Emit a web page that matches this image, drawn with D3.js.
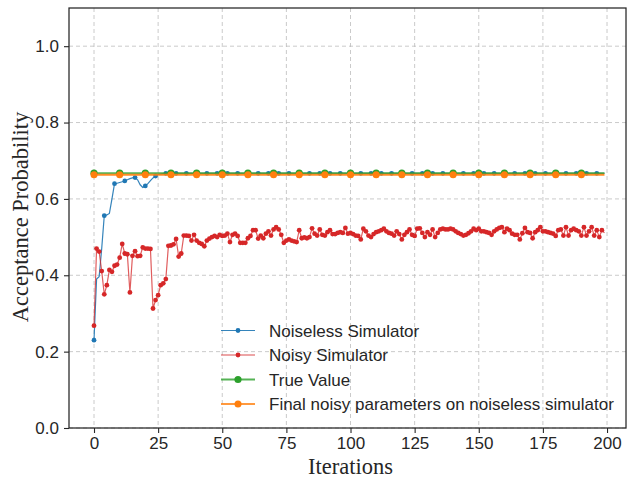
<!DOCTYPE html>
<html>
<head>
<meta charset="utf-8">
<script src="https://cdn.jsdelivr.net/npm/d3@7"></script>
<style>
  body { margin: 0; background: #fff; }
  svg { display: block; }
</style>
</head>
<body>
<div id="chart"></div>
<script>
// ---- data ----
var xTicks = [0, 25, 50, 75, 100, 125, 150, 175, 200];
var yTicks = [0.0, 0.2, 0.4, 0.6, 0.8, 1.0];

// noiseless simulator: one value per iteration while it climbs, then every 4th
var blueIters = [0, 1, 2, 3, 4, 5, 6, 7, 8, 9, 10, 11, 12, 13, 14, 15, 16, 17, 18, 19, 20, 21, 22, 23, 24, 25, 26, 27,
  28, 32, 36, 40, 44, 48, 52, 56, 60, 64, 68, 72, 76, 80, 84, 88, 92, 96, 100, 104, 108, 112, 116, 120,
  124, 128, 132, 136, 140, 144, 148, 152, 156, 160, 164, 168, 172, 176, 180, 184, 188, 192, 196, 199];
var blueValues = [0.230, 0.390, 0.396, 0.470, 0.556, 0.558, 0.562, 0.600, 0.640, 0.641, 0.643, 0.645, 0.647, 0.650,
  0.653, 0.655, 0.656, 0.650, 0.637, 0.630, 0.634, 0.640, 0.648, 0.655, 0.660, 0.664, 0.665, 0.666,
  0.667, 0.667, 0.667, 0.667, 0.667, 0.667, 0.667, 0.667, 0.667, 0.667, 0.667, 0.667, 0.667, 0.667,
  0.667, 0.667, 0.667, 0.667, 0.667, 0.667, 0.667, 0.667, 0.667, 0.667, 0.667, 0.667, 0.667, 0.667,
  0.667, 0.667, 0.667, 0.667, 0.667, 0.667, 0.667, 0.667, 0.667, 0.667, 0.667, 0.667, 0.667, 0.667,
  0.667, 0.667];

// noisy simulator, iterations 0..199
var redValues = [
  0.268, 0.470, 0.462, 0.411, 0.350, 0.374, 0.414, 0.409, 0.425, 0.428,
  0.446, 0.482, 0.457, 0.455, 0.355, 0.451, 0.463, 0.450, 0.451, 0.473,
  0.470, 0.470, 0.469, 0.313, 0.335, 0.348, 0.374, 0.379, 0.390, 0.477,
  0.478, 0.481, 0.495, 0.449, 0.457, 0.504, 0.504, 0.503, 0.491, 0.506,
  0.491, 0.485, 0.482, 0.476, 0.491, 0.496, 0.500, 0.503, 0.500, 0.506,
  0.503, 0.504, 0.509, 0.487, 0.506, 0.509, 0.503, 0.485, 0.485, 0.485,
  0.497, 0.503, 0.518, 0.518, 0.496, 0.504, 0.497, 0.509, 0.515, 0.504,
  0.520, 0.526, 0.520, 0.506, 0.485, 0.491, 0.494, 0.491, 0.489, 0.487,
  0.518, 0.497, 0.499, 0.497, 0.500, 0.523, 0.509, 0.504, 0.520, 0.506,
  0.504, 0.513, 0.518, 0.508, 0.508, 0.511, 0.513, 0.511, 0.524, 0.509,
  0.511, 0.508, 0.504, 0.503, 0.494, 0.522, 0.515, 0.504, 0.500, 0.508,
  0.513, 0.515, 0.518, 0.522, 0.515, 0.511, 0.509, 0.504, 0.515, 0.508,
  0.494, 0.506, 0.513, 0.520, 0.506, 0.503, 0.522, 0.523, 0.511, 0.500,
  0.513, 0.506, 0.520, 0.500, 0.511, 0.520, 0.522, 0.520, 0.520, 0.522,
  0.520, 0.515, 0.511, 0.508, 0.504, 0.506, 0.510, 0.515, 0.522, 0.518,
  0.522, 0.515, 0.515, 0.513, 0.511, 0.506, 0.515, 0.520, 0.524, 0.526,
  0.513, 0.522, 0.518, 0.509, 0.506, 0.506, 0.494, 0.510, 0.524, 0.513,
  0.511, 0.497, 0.513, 0.518, 0.526, 0.515, 0.515, 0.513, 0.511, 0.509,
  0.503, 0.518, 0.520, 0.504, 0.526, 0.504, 0.518, 0.522, 0.518, 0.515,
  0.504, 0.526, 0.504, 0.515, 0.526, 0.504, 0.518, 0.500, 0.518, 0.511
];

var trueValue = 0.6675;       // green line
var finalNoisyValue = 0.6635; // orange line
var lastIter = 199;

var legendLabels = ["Noiseless Simulator", "Noisy Simulator", "True Value",
  "Final noisy parameters on noiseless simulator"];
var colors = ["#1f77b4", "#d62728", "#2ca02c", "#ff7f0e"];

// ---- layout ----
var svgWidth = 627;
var svgHeight = 481;
var plot = { left: 69, right: 626, top: 8, bottom: 428 };

var svg = d3.select("#chart").append("svg")
  .attr("width", svgWidth).attr("height", svgHeight)
  .style("background", "#fff");

var xScale = d3.scaleLinear().domain([-9.75, 207.4]).range([plot.left, plot.right]);
var yScale = d3.scaleLinear().domain([0, 1.1]).range([plot.bottom, plot.top]);

var tickFont = "'Liberation Sans', Arial, sans-serif";
var labelFont = "'Liberation Serif', 'Times New Roman', serif";
var ink = "#262626";

// grid
var grid = svg.append("g");
grid.selectAll(".gx").data(xTicks).enter().append("line")
  .attr("x1", d => xScale(d)).attr("x2", d => xScale(d))
  .attr("y1", plot.top).attr("y2", plot.bottom)
  .attr("stroke", "#bdbdbd").attr("stroke-width", 0.8).attr("stroke-dasharray", "4,3");
grid.selectAll(".gy").data(yTicks).enter().append("line")
  .attr("x1", plot.left).attr("x2", plot.right)
  .attr("y1", d => yScale(d)).attr("y2", d => yScale(d))
  .attr("stroke", "#bdbdbd").attr("stroke-width", 0.8).attr("stroke-dasharray", "4,3");

// axes
var xAxis = d3.axisBottom(xScale).tickValues(xTicks).tickSize(5).tickPadding(4).tickFormat(d3.format("d"));
var yAxis = d3.axisLeft(yScale).tickValues(yTicks).tickSize(5).tickPadding(5).tickFormat(d3.format(".1f"));

var gx = svg.append("g").attr("transform", `translate(0, ${plot.bottom})`).call(xAxis);
var gy = svg.append("g").attr("transform", `translate(${plot.left}, 0)`).call(yAxis);
[gx, gy].forEach(function(g) {
  g.select(".domain").remove();
  g.selectAll(".tick line").attr("stroke", ink).attr("stroke-width", 1.1);
  g.selectAll(".tick text").attr("fill", ink).style("font-family", tickFont).style("font-size", "17px");
});

// frame
svg.append("rect")
  .attr("x", plot.left).attr("y", plot.top)
  .attr("width", plot.right - plot.left).attr("height", plot.bottom - plot.top)
  .attr("fill", "none").attr("stroke", ink).attr("stroke-width", 1.25);

// axis titles
svg.append("text")
  .attr("x", (xScale(0) + xScale(200)) / 2).attr("y", 474)
  .attr("text-anchor", "middle")
  .style("font-family", labelFont).style("font-size", "22.5px").attr("fill", ink)
  .text("Iterations");
svg.append("text")
  .attr("transform", "translate(28, 217) rotate(-90)")
  .attr("text-anchor", "middle")
  .style("font-family", labelFont).style("font-size", "22.5px").attr("fill", ink)
  .text("Acceptance Probability");

// ---- series ----
var blueData = blueIters.map((it, i) => ({ x: it, y: blueValues[i] }));
var redData = redValues.map((v, i) => ({ x: i, y: v }));
var greenData = d3.range(0, lastIter + 1).map(i => ({ x: i, y: trueValue }));
var orangeData = d3.range(0, lastIter + 1).map(i => ({ x: i, y: finalNoisyValue }));

var line = d3.line().x(d => xScale(d.x)).y(d => yScale(d.y));
var chartGroup = svg.append("g");

function drawSeries(data, color, lineWidth, lineOpacity, radius, markEvery) {
  chartGroup.append("path").datum(data)
    .attr("d", line).attr("fill", "none")
    .attr("stroke", color).attr("stroke-width", lineWidth).attr("stroke-opacity", lineOpacity);
  chartGroup.append("g").selectAll("circle")
    .data(data.filter(d => d.x % markEvery === 0 && d.x < 199))
    .enter().append("circle")
    .attr("cx", d => xScale(d.x)).attr("cy", d => yScale(d.y))
    .attr("r", radius).attr("fill", color);
}

drawSeries(blueData, colors[0], 1.2, 0.9, 2.4, 4);
drawSeries(redData, colors[1], 1.2, 0.75, 2.4, 1);
drawSeries(greenData, colors[2], 1.8, 0.8, 3.6, 10);
drawSeries(orangeData, colors[3], 2, 0.9, 3.5, 10);

// ---- legend ----
var legendStyle = [
  { w: 1.2, o: 0.9, r: 2.4 },
  { w: 1.6, o: 0.55, r: 2.4 },
  { w: 1.8, o: 0.8, r: 3.6 },
  { w: 2, o: 0.8, r: 3.5 }
];
var legend = svg.append("g");
legendLabels.forEach(function(label, i) {
  var y = 330.5 + i * 24.5;
  legend.append("line").attr("x1", 221).attr("x2", 255).attr("y1", y).attr("y2", y)
    .attr("stroke", colors[i]).attr("stroke-width", legendStyle[i].w).attr("stroke-opacity", legendStyle[i].o);
  legend.append("circle").attr("cx", 238).attr("cy", y).attr("r", legendStyle[i].r).attr("fill", colors[i]);
  legend.append("text").attr("x", 269).attr("y", y).attr("dy", "0.36em")
    .style("font-family", tickFont).style("font-size", "17px").attr("fill", ink)
    .text(label);
});
</script>
</body>
</html>
